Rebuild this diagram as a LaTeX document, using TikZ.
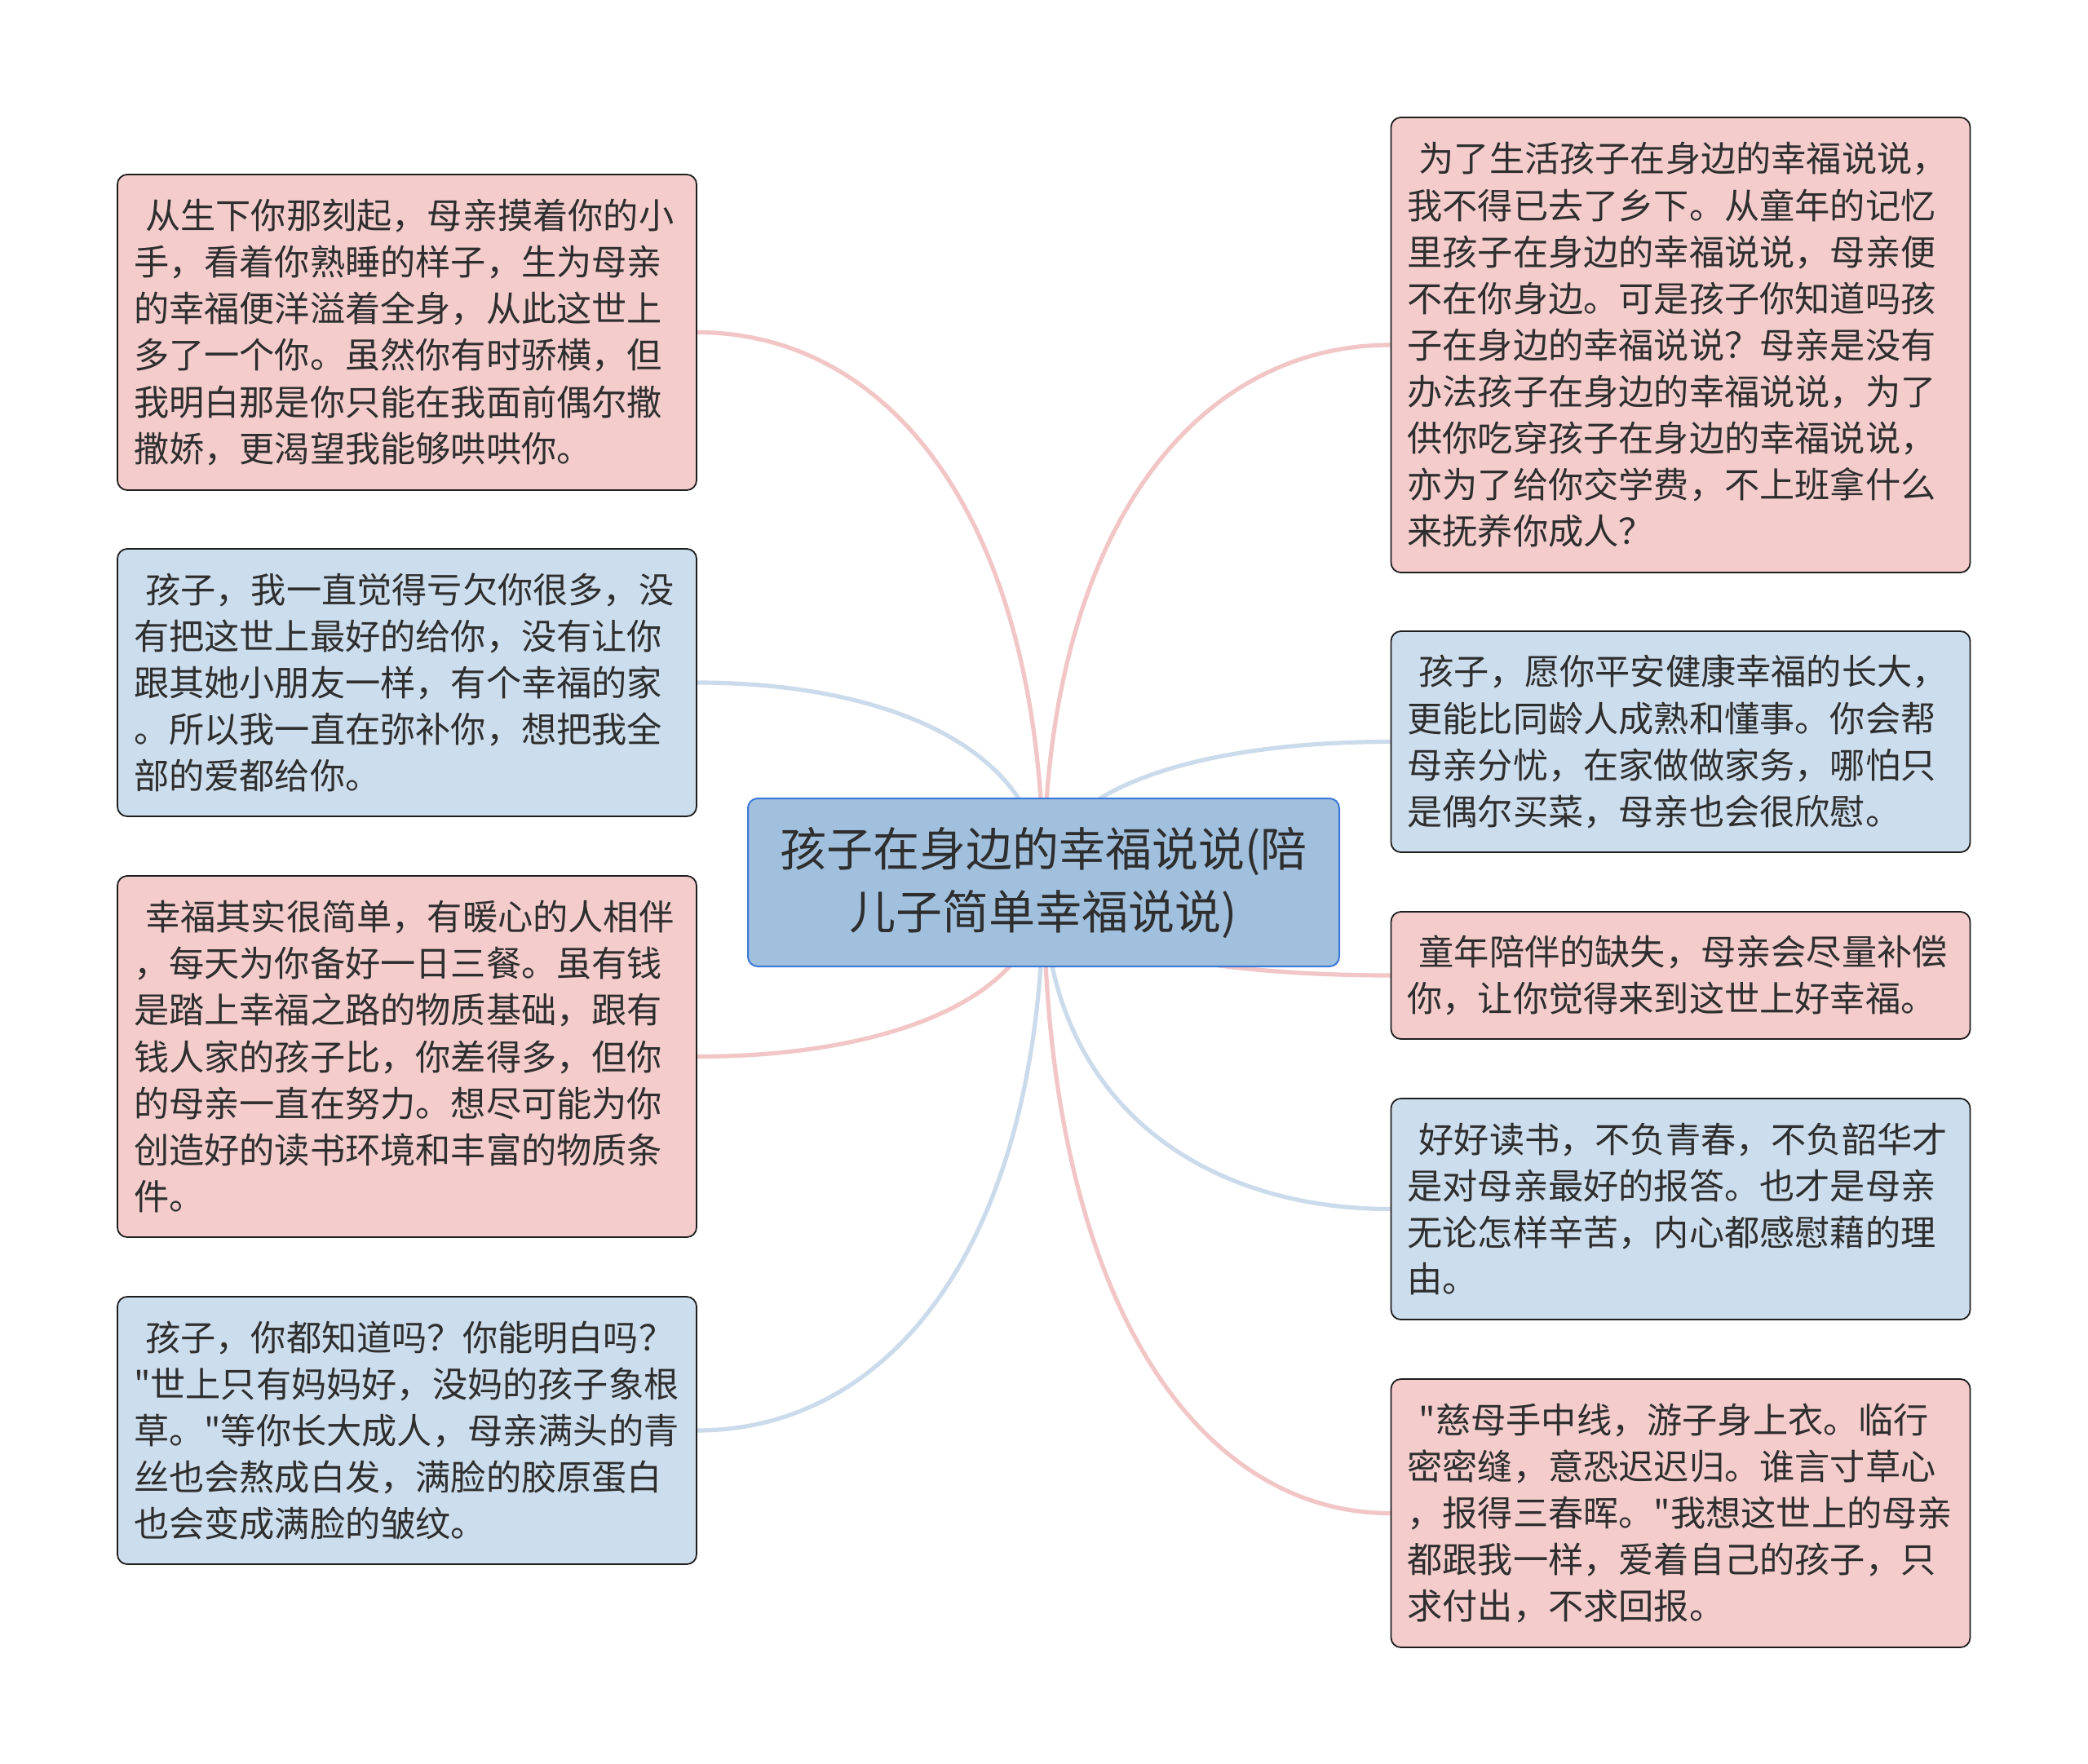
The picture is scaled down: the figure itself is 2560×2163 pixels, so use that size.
\documentclass[tikz,border=0pt]{standalone}
\usepackage{fontspec}
\newfontfamily\cjk{Noto Sans CJK SC}[Ligatures=TeXOff]
\usetikzlibrary{calc, backgrounds}
\definecolor{pinkfill}{HTML}{F4CCCC}
\definecolor{bluefill}{HTML}{CCDDED}
\definecolor{rootfill}{HTML}{A1C0DE}
\definecolor{rootedge}{HTML}{3C78D8}
\definecolor{pinkedge}{HTML}{F2C6C6}
\definecolor{blueedge}{HTML}{CBDBEB}
\definecolor{boxline}{HTML}{1E1E1E}
\definecolor{textgray}{HTML}{2E2E2E}

\begin{document}
\begin{tikzpicture}[x=0.5pt, y=-0.5pt,
    sidebox/.style={draw=boxline, line width=0.9pt, rounded corners=6pt, text width=335pt,
        inner xsep=10pt, inner ysep=0pt, align=left, text=textgray,
        font=\cjk\fontsize{21.6pt}{28.55pt}\selectfont},
    pinkbox/.style={sidebox, fill=pinkfill},
    bluebox/.style={sidebox, fill=bluefill},
    rootbox/.style={draw=rootedge, line width=1pt, rounded corners=6pt, fill=rootfill,
        minimum width=362.5pt, minimum height=103pt, align=center, text=textgray,
        font=\cjk\fontsize{28.5pt}{38.5pt}\selectfont},
    pinkline/.style={draw=pinkedge, line width=2.6pt},
    blueline/.style={draw=blueedge, line width=2.6pt}]
    \useasboundingbox (0,0) rectangle (2560,2163);

    \node[rootbox] (root) at (1279.5,1082) {孩子在身边的幸福说说(陪\\儿子简单幸福说说)};

    % left side
    \node[pinkbox, minimum height=193.5pt] (l1) at (499,407.5) {\hspace*{.33em}从生下你那刻起，母亲摸着你的小\\手，看着你熟睡的样子，生为母亲\\的幸福便洋溢着全身，从此这世上\\多了一个你。虽然你有时骄横，但\\我明白那是你只能在我面前偶尔撒\\撒娇，更渴望我能够哄哄你。};
    \node[bluebox, minimum height=164pt] (l2) at (499,837) {\hspace*{.33em}孩子，我一直觉得亏欠你很多，没\\有把这世上最好的给你，没有让你\\跟其她小朋友一样，有个幸福的家\\。所以我一直在弥补你，想把我全\\部的爱都给你。};
    \node[pinkbox, minimum height=221.5pt] (l3) at (499,1295.5) {\hspace*{.33em}幸福其实很简单，有暖心的人相伴\\，每天为你备好一日三餐。虽有钱\\是踏上幸福之路的物质基础，跟有\\钱人家的孩子比，你差得多，但你\\的母亲一直在努力。想尽可能为你\\创造好的读书环境和丰富的物质条\\件。};
    \node[bluebox, minimum height=164pt] (l4) at (499,1754) {\hspace*{.33em}孩子，你都知道吗？你能明白吗？\\"世上只有妈妈好，没妈的孩子象根\\草。"等你长大成人，母亲满头的青\\丝也会熬成白发，满脸的胶原蛋白\\也会变成满脸的皱纹。};

    % right side
    \node[pinkbox, minimum height=279pt] (r1) at (2060.5,423) {\hspace*{.33em}为了生活孩子在身边的幸福说说，\\我不得已去了乡下。从童年的记忆\\里孩子在身边的幸福说说，母亲便\\不在你身边。可是孩子你知道吗孩\\子在身边的幸福说说？母亲是没有\\办法孩子在身边的幸福说说，为了\\供你吃穿孩子在身边的幸福说说，\\亦为了给你交学费，不上班拿什么\\来抚养你成人？};
    \node[bluebox, minimum height=135.5pt] (r2) at (2060.5,909.5) {\hspace*{.33em}孩子，愿你平安健康幸福的长大，\\更能比同龄人成熟和懂事。你会帮\\母亲分忧，在家做做家务，哪怕只\\是偶尔买菜，母亲也会很欣慰。};
    \node[pinkbox, minimum height=78pt] (r3) at (2060.5,1196) {\hspace*{.33em}童年陪伴的缺失，母亲会尽量补偿\\你，让你觉得来到这世上好幸福。};
    \node[bluebox, minimum height=135.5pt] (r4) at (2060.5,1482.5) {\hspace*{.33em}好好读书，不负青春，不负韶华才\\是对母亲最好的报答。也才是母亲\\无论怎样辛苦，内心都感慰藉的理\\由。};
    \node[pinkbox, minimum height=164.5pt] (r5) at (2060.5,1855.5) {\hspace*{.33em}"慈母手中线，游子身上衣。临行\\密密缝，意恐迟迟归。谁言寸草心\\，报得三春晖。"我想这世上的母亲\\都跟我一样，爱着自己的孩子，只\\求付出，不求回报。};

    % curved links, behind the boxes
    \begin{scope}[on background layer]
        \fill[white] (0,0) rectangle (2560,2163);
        \foreach \nd/\sd/\kind in {l1/east/pinkline, l2/east/blueline, l3/east/pinkline, l4/east/blueline,
                r1/west/pinkline, r2/west/blueline, r3/west/pinkline, r4/west/blueline, r5/west/pinkline}
            \draw[\kind] (root.center) .. controls ($(root.center)!0.667!(root.center |- \nd.\sd)$)
                and ($(\nd.\sd)!0.55!(root.center |- \nd.\sd)$) .. (\nd.\sd);
    \end{scope}
\end{tikzpicture}
\end{document}
